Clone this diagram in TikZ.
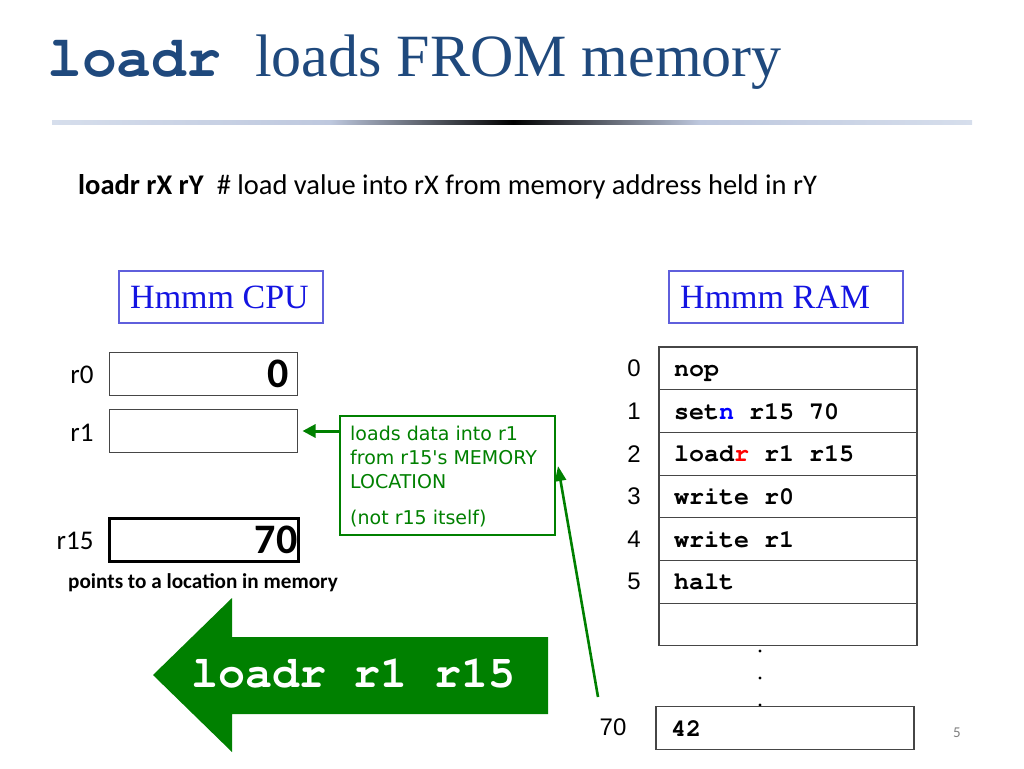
\documentclass[tikz,border=0pt]{standalone}
\usepackage[T1]{fontenc}
\usepackage{fontspec}
\setmainfont{Liberation Serif}
\newfontfamily\calfont{Carlito}
\newfontfamily\arialfnt{Liberation Sans}
\newfontfamily\comicfnt{DejaVu Sans}
\usetikzlibrary{arrows.meta}
\definecolor{titleblue}{RGB}{31,73,125}
\definecolor{hblue}{RGB}{20,20,225}
\definecolor{hborder}{RGB}{95,95,220}
\definecolor{dgreen}{RGB}{0,128,0}
\definecolor{lightbar}{RGB}{214,222,236}
\definecolor{midbar}{RGB}{190,200,222}
\definecolor{cellgray}{RGB}{70,70,70}
\newcommand{\fsz}[1]{\fontsize{#1}{#1}\selectfont}
\newcommand{\courb}{\fontencoding{T1}\fontfamily{pcr}\fontseries{b}\fontshape{n}\selectfont}
\newcommand{\csp}{\hspace*{0.6em}}
\tikzset{
  hbox/.style={draw=hborder, line width=1.2pt, minimum width=#1, minimum height=52pt, inner sep=0pt},
  reglabel/.style={font=\calfont\fsz{27}, anchor=east},
  regbox/.style={draw=cellgray, line width=1pt, minimum width=188pt, minimum height=43pt, inner sep=0pt},
  regval/.style={font=\calfont\bfseries\fsz{42}, anchor=east, inner sep=0pt},
  cell/.style={draw=cellgray, line width=1.1pt, minimum width=258pt, minimum height=42.7pt,
    text width=228pt, inner xsep=15pt, inner ysep=0pt, align=left, text height=16pt, text depth=0pt,
    font=\courb\fsz{25}},
  addr/.style={font=\arialfnt\fsz{24}},
  calltext/.style={anchor=base west, inner sep=0pt, text=dgreen, font=\comicfnt\fsz{19}},
  garrow/.style={draw=dgreen, line width=3pt, -{Triangle[length=13pt,width=13pt]}},
  garrowthin/.style={draw=dgreen, line width=2.6pt, -{Triangle[length=15pt,width=11pt]}},
}
\begin{document}
\begin{tikzpicture}[x=1pt,y=-1pt]
\useasboundingbox (0,0) rectangle (1024,768);
% title
\node[anchor=base west, inner sep=0pt, text=titleblue, font=\courb\fsz{58}] (tcode) at (47,76) {loadr};
\node[anchor=base west, inner sep=0pt, text=titleblue, font=\fsz{60}] (ttext) at (255,76) {loads FROM memory};
% gradient bar
\shade[left color=lightbar, right color=midbar] (52,120) rectangle (330,124.5);
\shade[left color=midbar, right color=black] (330,120) rectangle (513,124.5);
\shade[left color=black, right color=midbar] (513,120) rectangle (700,124.5);
\shade[left color=midbar, right color=lightbar] (700,120) rectangle (972,124.5);
% subtitle
\node[anchor=base west, inner sep=0pt, font=\calfont\fsz{28.5}] (sub) at (78,194)
  {\textbf{loadr rX rY}\ \ \# load value into rX from memory address held in rY};
% headers
\node[hbox=204pt] (cpu) at (221,297) {};
\node[anchor=west, inner sep=0pt, text=hblue, font=\fsz{34}] (cput) at (130,297) {Hmmm CPU};
\node[hbox=234pt] (ram) at (786,297) {};
\node[anchor=west, inner sep=0pt, text=hblue, font=\fsz{34}] (ramt) at (680,297) {Hmmm RAM};
% registers
\node[regbox] (r0) at (203,373.5) {};
\node[reglabel] (r0l) at (97,375) {r0};
\node[regval] (r0v) at ([xshift=-9pt]r0.east) {0};
\node[regbox] (r1) at (203,431) {};
\node[reglabel] (r1l) at (97,433) {r1};
\node[regbox, draw=black, line width=3pt, minimum width=189pt] (r15) at (203.5,539.5) {};
\node[reglabel] (r15l) at (97,541) {r15};
\node[regval] (r15v) at ([xshift=-2pt]r15.east) {70};
\node[anchor=base west, inner sep=0pt, font=\calfont\bfseries\fsz{21.2}] (pts) at (68,588) {points to a location in memory};
% callout
\node[draw=dgreen, line width=1.8pt, minimum width=215pt, minimum height=119pt, inner sep=0pt] (call) at (447.5,475.5) {};
\node[calltext] (c1) at (350,440) {loads data into r1};
\node[calltext] (c2) at (350,464) {from r15's MEMORY};
\node[calltext] (c3) at (350,488) {LOCATION};
\node[calltext] (c4) at (350,524) {(not r15 itself)};
\draw[garrow] (call.west |- r1.east) -- ([xshift=5pt]r1.east);
% big arrow
\fill[dgreen] (548,637) -- (232,637) -- (232,598) -- (153,675) -- (232,752) -- (232,714) -- (548,714) -- cycle;
\node[text=white, font=\courb\fsz{45}, inner sep=0pt] (big) at (353,674) {loadr\csp r1\csp r15};
% RAM
\node[cell] (m0) at (788,368.3) {nop};
\node[cell] (m1) at (788,411.0) {set\textcolor{blue}{n}\csp r15\csp 70};
\node[cell] (m2) at (788,453.7) {load\textcolor{red}{r}\csp r1\csp r15};
\node[cell] (m3) at (788,496.4) {write\csp r0};
\node[cell] (m4) at (788,539.1) {write\csp r1};
\node[cell] (m5) at (788,581.8) {halt};
\node[cell] (m6) at (788,624.5) {};
\foreach \i in {0,...,5} {
  \node[addr] (a\i) at (634, 368.3+42.7*\i) {\i};
}
\fill (760,651) circle (1.6pt);
\fill (760,678) circle (1.6pt);
\fill (760,705) circle (1.6pt);
\node[cell] (m70) at (785,728) {42};
\node[addr] (a70) at (613,727) {70};
% long arrow
\coordinate (lstart) at (598,697);
\coordinate (ltip) at (558,466);
\draw[garrowthin] (lstart) -- (ltip);
% page number
\node[text=gray, font=\calfont\fsz{15}] (pg) at (957,733) {5};
\end{tikzpicture}
\end{document}
